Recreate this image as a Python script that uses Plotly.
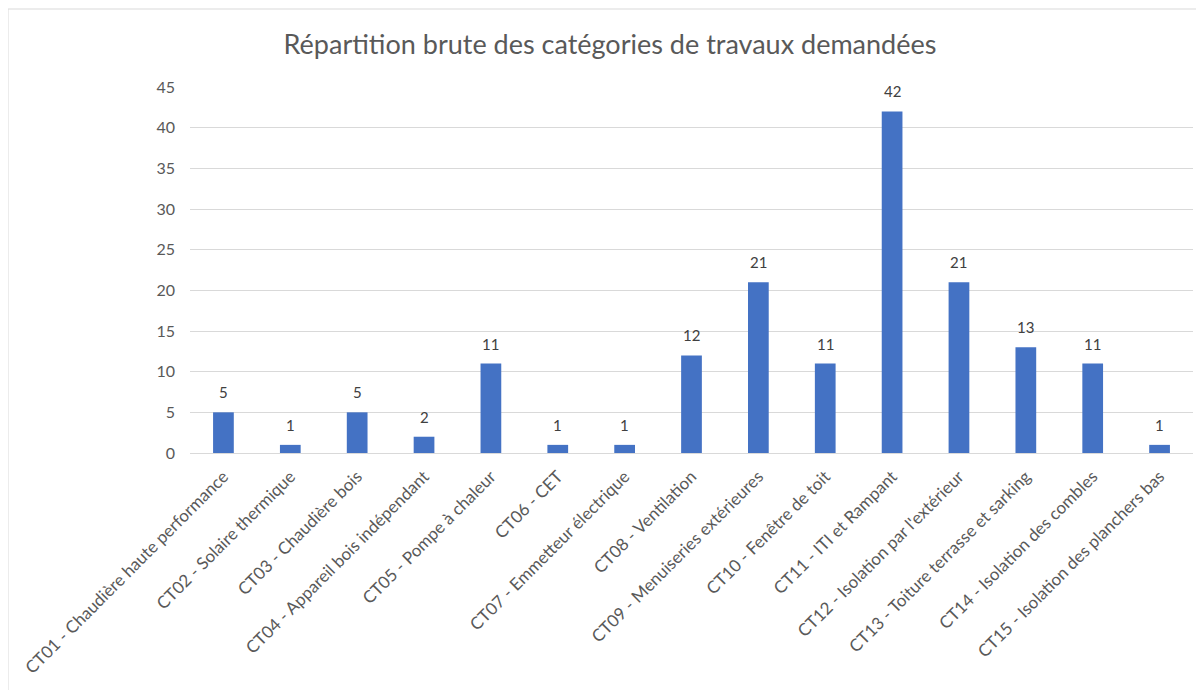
import plotly.graph_objects as go

categories = [
    "CT01 - Chaudière haute performance",
    "CT02 - Solaire thermique",
    "CT03 - Chaudière bois",
    "CT04 - Appareil bois indépendant",
    "CT05 - Pompe à chaleur",
    "CT06 - CET",
    "CT07 - Emmetteur électrique",
    "CT08 - Ventilation",
    "CT09 - Menuiseries extérieures",
    "CT10 - Fenêtre de toit",
    "CT11 - ITI et Rampant",
    "CT12 - Isolation par l'extérieur",
    "CT13 - Toiture terrasse et sarking",
    "CT14 - Isolation des combles",
    "CT15 - Isolation des planchers bas",
]
values = [5, 1, 5, 2, 11, 1, 1, 12, 21, 11, 42, 21, 13, 11, 1]
y_ticks = [0, 5, 10, 15, 20, 25, 30, 35, 40, 45]

FONT = "Lato, 'Open Sans', sans-serif"
GRAY = "#595959"

# page body has an 8px margin: figure origin sits at (8, 8) on screen
OFF = 8
PL, PR, PT, PB = 190, 1193, 87, 453  # target plot area on screen

fig = go.Figure(
    go.Bar(
        x=categories,
        y=values,
        marker=dict(color="#4472C4", line=dict(width=0)),
        hoverinfo="x+y",
    )
)

for c, v in zip(categories, values):
    fig.add_annotation(
        x=c, y=v, xref="x", yref="y",
        text=str(v), showarrow=False,
        yanchor="bottom", yshift=9,
        font=dict(family=FONT, size=15, color="#404040"),
    )

fig.update_layout(
    width=1204,
    height=690,
    margin=dict(l=PL - OFF, r=1204 + OFF - PR, t=PT - OFF, b=690 + OFF - PB,
                autoexpand=False),
    paper_bgcolor="white",
    plot_bgcolor="white",
    bargap=0.69,
    showlegend=False,
    title=dict(
        text="Répartition brute des catégories de travaux demandées",
        x=(610 - OFF) / 1204,
        xref="container",
        xanchor="center",
        y=1 - (45 - OFF) / 690,
        yref="container",
        yanchor="middle",
        font=dict(family=FONT, size=27, color=GRAY),
    ),
    font=dict(family=FONT, color=GRAY),
)

fig.update_xaxes(
    tickangle=-45,
    tickfont=dict(family=FONT, size=17, color=GRAY),
    showgrid=False,
    showline=True,
    linecolor="#d9d9d9",
    linewidth=1,
    ticks="",
    ticklabelstandoff=6,
    automargin=False,
)
fig.update_yaxes(
    range=[0, 45],
    tickvals=y_ticks,
    tickfont=dict(family=FONT, size=16, color=GRAY),
    gridcolor="#d9d9d9",
    gridwidth=1,
    zeroline=False,
    showline=False,
    ticks="",
    ticklabelstandoff=14,
    automargin=False,
)

# light outer border of the chart area
W, H = PR - PL, PB - PT
fig.add_shape(
    type="rect",
    xref="paper",
    yref="paper",
    x0=(8 - PL) / W,
    x1=(1230 - PL) / W,
    y0=(PB - 720) / H,
    y1=(PB - 9) / H,
    line=dict(color="#d9d9d9", width=1),
    fillcolor="rgba(0,0,0,0)",
    layer="below",
)

fig.write_html("out.html")
